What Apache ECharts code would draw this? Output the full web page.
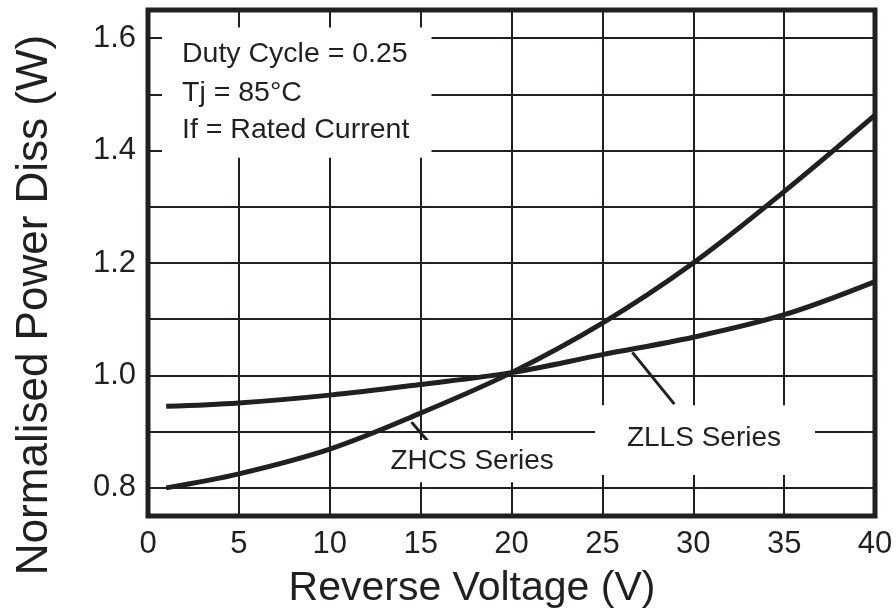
<!DOCTYPE html>
<html>
<head>
<meta charset="utf-8">
<script src="https://cdn.jsdelivr.net/npm/echarts@6/dist/echarts.min.js"></script>
<style>html,body{margin:0;padding:0;background:#fff}#c{width:896px;height:612px}</style>
</head>
<body>
<div id="c"></div>
<script>
// ---- data ----
const voltage = [1, 5, 10, 15, 20, 25, 30, 35, 40];
const zhcs = [0.800, 0.825, 0.869, 0.933, 1.005, 1.093, 1.200, 1.327, 1.463];
const zlls = [0.945, 0.951, 0.965, 0.984, 1.005, 1.037, 1.068, 1.108, 1.167];
const yTickLabels = [0.8, 1.0, 1.2, 1.4, 1.6];
const xTickStep = 5;
const notes = ['Duty Cycle = 0.25', 'Tj = 85°C', 'If = Rated Current'];
const zhcsLabel = 'ZHCS Series';
const zllsLabel = 'ZLLS Series';
const zhcsLeader = [[14.5, 0.917], [15.4, 0.883]];
const zllsLeader = [[26.65, 1.041], [28.96, 0.949]];
const xTitle = 'Reverse Voltage (V)';
const yTitle = 'Normalised Power Diss (W)';

const INK = '#231f20';
const FONT = '"Liberation Sans", Arial, Helvetica, sans-serif';

const chart = echarts.init(document.getElementById('c'), null, {renderer: 'canvas'});

const pairs = (xs, ys) => xs.map((x, i) => [x, ys[i]]);

chart.setOption({
  animation: false,
  backgroundColor: '#fff',
  grid: {
    left: 148, right: 21, top: 10, bottom: 96,
    show: true, borderColor: INK, borderWidth: 5, backgroundColor: 'transparent'
  },
  xAxis: {
    type: 'value', min: 0, max: 40, interval: xTickStep,
    axisLine: {show: false}, axisTick: {show: false},
    axisLabel: {color: INK, fontSize: 31, fontFamily: FONT, margin: 13},
    splitLine: {show: true, lineStyle: {color: INK, width: 2}}
  },
  yAxis: {
    type: 'value', min: 0.75, max: 1.65, splitNumber: 9,
    axisLine: {show: false}, axisTick: {show: false},
    axisLabel: {
      color: INK, fontSize: 31, fontFamily: FONT, margin: 12,
      formatter: v => yTickLabels.some(t => Math.abs(t - v) < 1e-6) ? v.toFixed(1) : ''
    },
    splitLine: {show: true, lineStyle: {color: INK, width: 2}}
  },
  series: [
    {name: 'ZHCS', type: 'line', data: pairs(voltage, zhcs), smooth: 0.35, showSymbol: false,
     lineStyle: {color: INK, width: 5}, z: 3},
    {name: 'ZLLS', type: 'line', data: pairs(voltage, zlls), smooth: 0.35, showSymbol: false,
     lineStyle: {color: INK, width: 5}, z: 3},
    {name: 'zhcsLeader', type: 'line', data: zhcsLeader, showSymbol: false,
     lineStyle: {color: INK, width: 3}, z: 3},
    {name: 'zllsLeader', type: 'line', data: zllsLeader, showSymbol: false,
     lineStyle: {color: INK, width: 3}, z: 3}
  ]
});

// annotation boxes / texts placed in data coordinates
const px = (x, y) => chart.convertToPixel({gridIndex: 0}, [x, y]);
function box(x0, y0, x1, y1) {
  const a = px(x0, y0), b = px(x1, y1);
  return {type: 'rect', z: 50, silent: true,
    shape: {x: Math.min(a[0], b[0]), y: Math.min(a[1], b[1]), width: Math.abs(b[0] - a[0]), height: Math.abs(b[1] - a[1])},
    style: {fill: '#fff'}};
}
function txt(s, x, y, size, align) {
  const p = px(x, y);
  return {type: 'text', z: 51, silent: true, x: p[0], y: p[1],
    style: {text: s, fill: INK, font: size + 'px ' + FONT, textAlign: align, textVerticalAlign: 'middle', align: align, verticalAlign: 'middle'}};
}
const noteY = [1.572, 1.503, 1.437];
const els = [
  box(0.77, 1.619, 15.6, 1.387),
  box(12.9, 0.885, 22.94, 0.810),
  box(24.6, 0.947, 36.7, 0.823),
  ...notes.map((s, i) => txt(s, 1.87, noteY[i], 28.5, 'left')),
  txt(zhcsLabel, 17.83, 0.848, 28, 'center'),
  txt(zllsLabel, 30.59, 0.889, 28, 'center'),
  {type: 'text', z: 51, silent: true, x: 472, y: 589,
   style: {text: xTitle, fill: INK, font: '41px ' + FONT, textAlign: 'center', textVerticalAlign: 'middle', align: 'center', verticalAlign: 'middle'}},
  {type: 'text', z: 51, silent: true, x: 35, y: 305, rotation: Math.PI / 2,
   style: {text: yTitle, fill: INK, font: '44px ' + FONT, textAlign: 'center', textVerticalAlign: 'middle', align: 'center', verticalAlign: 'middle'}}
];
chart.setOption({graphic: {elements: els}});
</script>
</body>
</html>
